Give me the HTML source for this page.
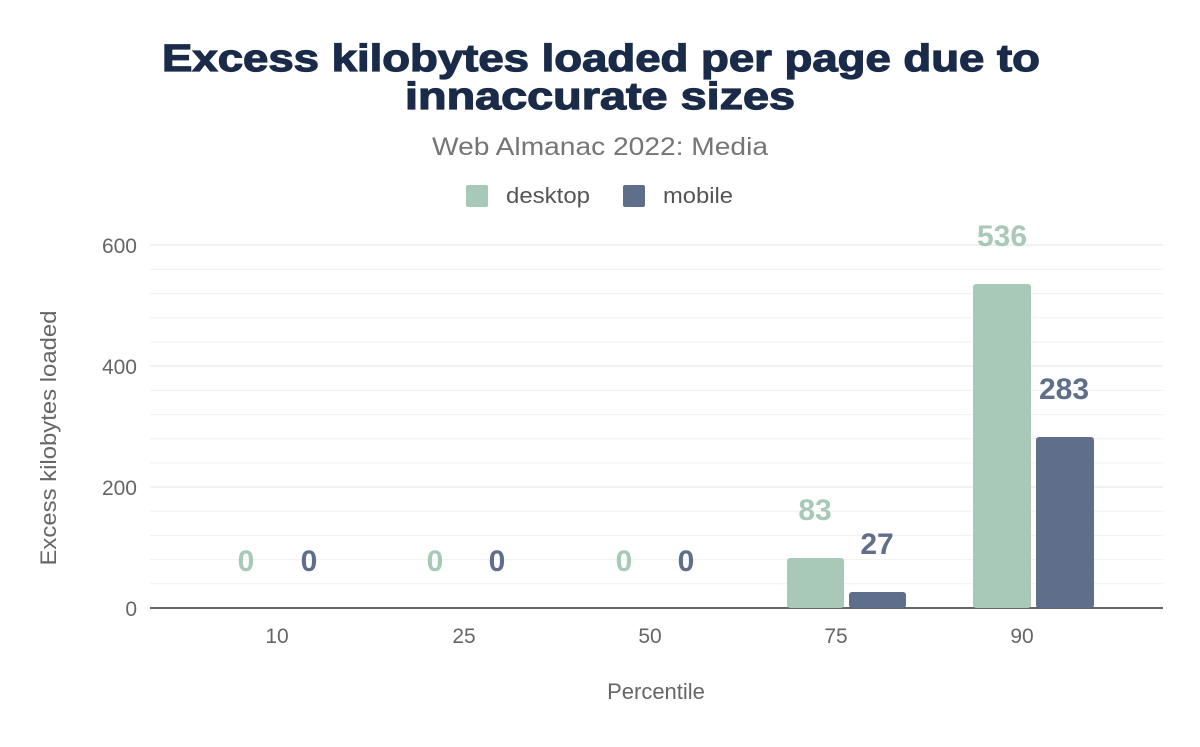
<!DOCTYPE html>
<html><head><meta charset="utf-8"><style>
body{margin:0;background:#fff;}
svg text{font-family:"Liberation Sans",Arial,sans-serif;}
</style></head><body>
<svg width="1200" height="742" viewBox="0 0 1200 742" xmlns="http://www.w3.org/2000/svg">
<rect width="1200" height="742" fill="#fff"/>
<text x="162" y="71" font-size="38" font-weight="900" fill="#1a2b49" stroke="#1a2b49" stroke-width="1.2" textLength="878" lengthAdjust="spacingAndGlyphs">Excess kilobytes loaded per page due to</text>
<text x="405" y="109" font-size="38" font-weight="900" fill="#1a2b49" stroke="#1a2b49" stroke-width="1.2" textLength="390" lengthAdjust="spacingAndGlyphs">innaccurate sizes</text>
<text x="432" y="155" font-size="25" fill="#757575" textLength="336" lengthAdjust="spacingAndGlyphs">Web Almanac 2022: Media</text>
<rect x="466" y="185" width="22" height="22" rx="2" fill="#a8c9b8"/>
<text x="506" y="203" font-size="22" fill="#555" textLength="84" lengthAdjust="spacingAndGlyphs">desktop</text>
<rect x="623" y="185" width="22" height="22" rx="2" fill="#5f6e8a"/>
<text x="663" y="203" font-size="22" fill="#555" textLength="70" lengthAdjust="spacingAndGlyphs">mobile</text>
<g stroke="#f0f0f0" stroke-width="1">
<line x1="150" x2="1163" y1="583.8" y2="583.8"/><line x1="150" x2="1163" y1="559.6" y2="559.6"/><line x1="150" x2="1163" y1="535.4" y2="535.4"/><line x1="150" x2="1163" y1="511.2" y2="511.2"/>
<line x1="150" x2="1163" y1="463" y2="463"/><line x1="150" x2="1163" y1="438.8" y2="438.8"/><line x1="150" x2="1163" y1="414.6" y2="414.6"/><line x1="150" x2="1163" y1="390.4" y2="390.4"/>
<line x1="150" x2="1163" y1="342" y2="342"/><line x1="150" x2="1163" y1="317.8" y2="317.8"/><line x1="150" x2="1163" y1="293.6" y2="293.6"/><line x1="150" x2="1163" y1="269.4" y2="269.4"/>
</g>
<g stroke="#e3e3e3" stroke-width="1">
<line x1="150" x2="1163" y1="487" y2="487"/><line x1="150" x2="1163" y1="366" y2="366"/><line x1="150" x2="1163" y1="245" y2="245"/>
</g>
<line x1="150" x2="1163" y1="608" y2="608" stroke="#333" stroke-width="1.5"/>
<g font-size="21" fill="#666" text-anchor="end">
<text x="137" y="616">0</text><text x="137" y="495">200</text><text x="137" y="374">400</text><text x="137" y="253">600</text>
</g>
<text transform="translate(56,438) rotate(-90)" text-anchor="middle" font-size="22" fill="#666" textLength="255" lengthAdjust="spacingAndGlyphs">Excess kilobytes loaded</text>
<g font-size="21" fill="#666" text-anchor="middle">
<text x="277" y="643">10</text><text x="464" y="643">25</text><text x="650" y="643">50</text><text x="836" y="643">75</text><text x="1022" y="643">90</text>
</g>
<text x="656" y="699" text-anchor="middle" font-size="22" fill="#666">Percentile</text>
<rect x="787" y="558" width="57" height="50" rx="3" fill="#a8c9b8"/>
<rect x="849" y="592" width="57" height="16" rx="3" fill="#5f6e8a"/>
<rect x="973" y="284" width="58" height="324" rx="3" fill="#a8c9b8"/>
<rect x="1036" y="437" width="58" height="171" rx="3" fill="#5f6e8a"/>
<g font-size="30" font-weight="bold" text-anchor="middle">
<text x="246" y="571" fill="#a8c9b8">0</text><text x="309" y="571" fill="#5f6e8a">0</text>
<text x="435" y="571" fill="#a8c9b8">0</text><text x="497" y="571" fill="#5f6e8a">0</text>
<text x="624" y="571" fill="#a8c9b8">0</text><text x="686" y="571" fill="#5f6e8a">0</text>
<text x="815" y="520" fill="#a8c9b8">83</text><text x="877" y="554" fill="#5f6e8a">27</text>
<text x="1002" y="246" fill="#a8c9b8">536</text><text x="1064" y="399" fill="#5f6e8a">283</text>
</g>
</svg>
</body></html>
